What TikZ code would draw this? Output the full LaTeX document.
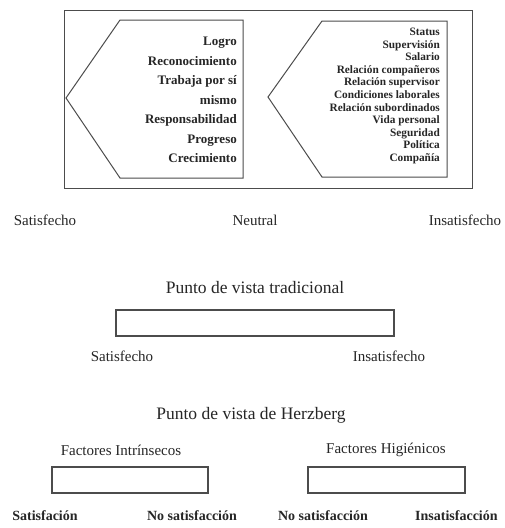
\documentclass[tikz,border=0pt]{standalone}
\usepackage{fontspec}
\setmainfont{Liberation Serif}
\begin{document}
\begin{tikzpicture}[x=1pt,y=-1pt,
  ln/.style={draw=black!70, line width=1pt},
  bar/.style={draw=black!70, line width=1.1pt, inner sep=0, fill=white},
  lbl/.style={font=\fontsize{15}{18}\selectfont, inner sep=0, text=black!85},
  ttl/.style={font=\fontsize{17.5}{21}\selectfont, inner sep=0, text=black!85},
  blbl/.style={font=\bfseries\fontsize{14}{17}\selectfont, inner sep=0, text=black!85},
  listl/.style={font=\bfseries\fontsize{13}{19.5}\selectfont, align=right, inner sep=0, anchor=east, text=black!85},
  listr/.style={font=\bfseries\fontsize{11.3}{12.6}\selectfont, align=right, inner sep=0, anchor=east, text=black!85}]
\useasboundingbox[fill=white] (0,0) rectangle (504,528);
% outer frame
\draw[ln] (64,10) rectangle (472,188);
% left pentagon
\draw[ln] (66,98) -- (120,20) -- (243,20) -- (243,178) -- (120,178) -- cycle;
% right pentagon
\draw[ln] (268,97) -- (322,21) -- (447,21) -- (447,177) -- (322,177) -- cycle;
\node[listl] (intr) at (237,100) {Logro\\Reconocimiento\\Trabaja por sí\\mismo\\Responsabilidad\\Progreso\\Crecimiento};
\node[listr] (hig) at (440,96) {Status\\Supervisión\\Salario\\Relación compañeros\\Relación supervisor\\Condiciones laborales\\Relación subordinados\\Vida personal\\Seguridad\\Política\\Compañía};
% scale labels
\node[lbl] (s1) at (45,220) {Satisfecho};
\node[lbl] (n1) at (255,220) {Neutral};
\node[lbl] (i1) at (465,220) {Insatisfecho};
% traditional view
\node[ttl] (t1) at (255,288) {Punto de vista tradicional};
\node[bar, minimum width=278pt, minimum height=26pt] (trad) at (255,323) {};
\node[lbl] (s2) at (122,356) {Satisfecho};
\node[lbl] (i2) at (389,356) {Insatisfecho};
% Herzberg view
\node[ttl] (t2) at (251,415) {Punto de vista de Herzberg};
\node[lbl] (fi) at (121,450) {Factores Intrínsecos};
\node[lbl] (fh) at (386,450) {Factores Higiénicos};
\node[bar, minimum width=156pt, minimum height=26pt] (bi) at (130,480) {};
\node[bar, minimum width=157pt, minimum height=26pt] (bh) at (386.5,480) {};
\node[blbl] (sa) at (45,516) {Satisfación};
\node[blbl] (ns1) at (192,516) {No satisfacción};
\node[blbl] (ns2) at (323,516) {No satisfacción};
\node[blbl, anchor=west] (ins) at (415,516) {Insatisfacción};
\end{tikzpicture}
\end{document}
